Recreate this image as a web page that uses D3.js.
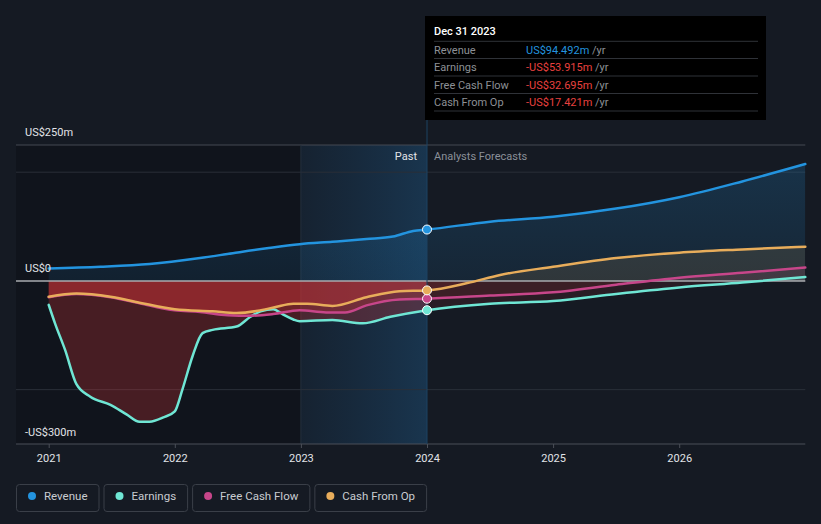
<!DOCTYPE html>
<html>
<head>
<meta charset="utf-8">
<script src="https://cdn.jsdelivr.net/npm/d3@7"></script>
<style>
html,body{margin:0;padding:0;background:#151a23;}
svg{display:block;font-family:Roboto,"Noto Sans",sans-serif;}
</style>
</head>
<body>
<svg id="chart" width="821" height="524"></svg>
<script>
// ---------------- DATA ----------------
const seriesNames = ["Revenue", "Earnings", "Free Cash Flow", "Cash From Op"];
const yearTicks = [2021, 2022, 2023, 2024, 2025, 2026];
const yTickLabels = [{v: 250, t: "US$250m"}, {v: 0, t: "US$0"}, {v: -300, t: "-US$300m"}];
const gridValues = [200, -200];

const revenuePast = [[2021.0,23],[2021.41,26],[2021.8,31],[2022.2,42],[2022.46,51],[2022.73,60],[2022.99,67.5],[2023.25,72],[2023.52,77],[2023.73,81.5],[2023.89,92],[2024.0,94.492]];
const revenueForecast = [[2024.0,94.492],[2024.5,109],[2025.0,118],[2025.5,133],[2026.0,154],[2026.5,183],[2027.0,215]];

const earningsPast = [[2021.0,-44],[2021.05,-78],[2021.13,-127],[2021.22,-190],[2021.33,-213],[2021.49,-228],[2021.62,-246],[2021.72,-259],[2021.8,-259],[2021.91,-251],[2022.0,-240],[2022.06,-200],[2022.14,-139],[2022.22,-96],[2022.3,-90],[2022.49,-84],[2022.6,-66],[2022.68,-56],[2022.78,-52],[2022.86,-62],[2022.94,-71],[2022.99,-74],[2023.25,-72],[2023.49,-78],[2023.71,-66],[2024.0,-53.915]];
const earningsForecast = [[2024.0,-53.915],[2024.5,-42],[2025.0,-37],[2025.5,-24],[2026.0,-12],[2026.5,-3],[2027.0,7]];

const fcfPast = [[2021.0,-30],[2021.22,-24],[2021.49,-30],[2021.72,-41],[2022.0,-54],[2022.2,-57],[2022.42,-63],[2022.6,-64],[2022.78,-61],[2022.99,-54],[2023.2,-58],[2023.35,-58],[2023.52,-45],[2023.78,-34],[2024.0,-32.695]];
const fcfForecast = [[2024.0,-32.695],[2024.5,-27],[2025.0,-21],[2025.5,-7],[2026.0,6],[2026.5,15],[2027.0,24.5]];

const cfoPast = [[2021.0,-29],[2021.22,-23],[2021.49,-29],[2021.72,-40],[2022.0,-52],[2022.3,-56],[2022.49,-59],[2022.66,-55],[2022.8,-48],[2022.94,-42],[2023.05,-42],[2023.25,-46],[2023.52,-30],[2023.78,-19],[2024.0,-17.421]];
const cfoForecast = [[2024.0,-17.421],[2024.32,-4],[2024.58,11],[2025.0,26],[2025.5,42],[2026.0,52],[2026.5,58],[2027.0,63]];

const tooltipDate = "Dec 31 2023";
const tooltipValues = ["US$94.492m", "-US$53.915m", "-US$32.695m", "-US$17.421m"];
const markerYear = 2024.0;
const pastStartYear = 2023.0;

// ---------------- SETUP ----------------
const colors = ["#2394df", "#6fe6d4", "#c7468a", "#e8ad5b"];
const svg = d3.select("#chart");
const x = d3.scaleLinear().domain([2021, 2027]).range([48.7, 805.3]);
const y = d3.scaleLinear().domain([-300, 250]).range([444, 145]);
const xLeft = 16, xRight = x(2027);
const y0 = y(0);

const defs = svg.append("defs");
function clip(id, x1, y1, x2, y2) {
  defs.append("clipPath").attr("id", id).append("rect")
    .attr("x", x1).attr("y", y1).attr("width", x2 - x1).attr("height", y2 - y1);
}
clip("negPast", xLeft, y0, x(markerYear), y(-300));
clip("negFore", x(markerYear), y0, xRight, y(-300));
clip("posAll", xLeft, y(250), xRight, y0);

const bandGrad = defs.append("linearGradient").attr("id", "band").attr("x1", 0).attr("x2", 1).attr("y1", 0).attr("y2", 0);
bandGrad.append("stop").attr("offset", 0).attr("stop-color", "#1a4e7a").attr("stop-opacity", 0.16);
bandGrad.append("stop").attr("offset", 1).attr("stop-color", "#1f5e90").attr("stop-opacity", 0.4);

const revGrad = defs.append("linearGradient").attr("id", "revGrad")
  .attr("gradientUnits", "userSpaceOnUse").attr("x1", 0).attr("x2", 0).attr("y1", y(215)).attr("y2", y0);
revGrad.append("stop").attr("offset", 0).attr("stop-color", "#2394df").attr("stop-opacity", 0.2);
revGrad.append("stop").attr("offset", 1).attr("stop-color", "#2394df").attr("stop-opacity", 0.1);

// background regions
svg.append("rect").attr("x", xLeft).attr("y", y(250)).attr("width", x(pastStartYear) - xLeft).attr("height", y(-300) - y(250))
  .attr("fill", "#000").attr("opacity", 0.2);
svg.append("rect").attr("x", x(pastStartYear)).attr("y", y(250)).attr("width", x(markerYear) - x(pastStartYear)).attr("height", y(-300) - y(250))
  .attr("fill", "url(#band)");

// grid
svg.append("line").attr("x1", xLeft).attr("x2", xRight).attr("y1", y(250)).attr("y2", y(250)).attr("stroke", "#444952").attr("stroke-width", 1);
gridValues.forEach(v => {
  svg.append("line").attr("x1", xLeft).attr("x2", xRight).attr("y1", y(v)).attr("y2", y(v)).attr("stroke", "#2a2f38").attr("stroke-width", 1);
});
svg.append("line").attr("x1", x(pastStartYear)).attr("x2", x(pastStartYear)).attr("y1", y(250)).attr("y2", y(-300)).attr("stroke", "#24303d").attr("stroke-width", 1);

// series data
const allSeries = [
  revenuePast.concat(revenueForecast.slice(1)),
  earningsPast.concat(earningsForecast.slice(1)),
  fcfPast.concat(fcfForecast.slice(1)),
  cfoPast.concat(cfoForecast.slice(1))
];

const curve = d3.curveMonotoneX;
const area = d3.area().x(d => x(d[0])).y0(y0).y1(d => y(d[1])).curve(curve);
const line = d3.line().x(d => x(d[0])).y(d => y(d[1])).curve(curve);

// revenue area
svg.append("path").datum(allSeries[0]).attr("d", area).attr("fill", "url(#revGrad)").attr("clip-path", "url(#posAll)");
// positive areas of other series
[1, 2, 3].forEach(i => {
  svg.append("path").datum(allSeries[i]).attr("d", area).attr("fill", colors[i]).attr("opacity", 0.12).attr("clip-path", "url(#posAll)");
});
// negative areas (red)
[1, 2, 3].forEach(i => {
  svg.append("path").datum(allSeries[i]).attr("d", area).attr("fill", "#cf3338").attr("opacity", 0.29).attr("clip-path", "url(#negPast)");
  svg.append("path").datum(allSeries[i]).attr("d", area).attr("fill", "#cf3338").attr("opacity", 0.11).attr("clip-path", "url(#negFore)");
});

// zero line and axis
svg.append("line").attr("x1", xLeft).attr("x2", xRight).attr("y1", y0).attr("y2", y0).attr("stroke", "#a9abaf").attr("stroke-width", 1.5);
svg.append("line").attr("x1", xLeft).attr("x2", xRight).attr("y1", y(-300)).attr("y2", y(-300)).attr("stroke", "#4a4f58").attr("stroke-width", 1);

// vertical line at marker
svg.append("line").attr("x1", x(markerYear)).attr("x2", x(markerYear)).attr("y1", 120).attr("y2", y(-300)).attr("stroke", "#1d4262").attr("stroke-width", 1);

// lines (draw order: earnings, fcf, cfo, revenue)
[1, 2, 3, 0].forEach(i => {
  svg.append("path").datum(allSeries[i]).attr("d", line).attr("fill", "none").attr("stroke", colors[i]).attr("stroke-width", 2.5)
    .attr("stroke-linejoin", "round").attr("stroke-linecap", "round");
});

// markers
[0, 1, 2, 3].forEach(i => {
  const pt = allSeries[i].find(d => d[0] === markerYear);
  svg.append("circle").attr("cx", x(pt[0])).attr("cy", y(pt[1])).attr("r", 4.5).attr("fill", colors[i]).attr("stroke", "#fff").attr("stroke-width", 1);
});

// x axis ticks and labels
const xAxis = d3.axisBottom(x).tickValues(yearTicks).tickFormat(d3.format("d")).tickSize(4).tickPadding(6);
const gx = svg.append("g").attr("transform", `translate(0,${y(-300)})`).call(xAxis);
gx.select(".domain").remove();
gx.selectAll(".tick line").attr("stroke", "#4a4f58");
gx.selectAll(".tick text").attr("fill", "#e2e4e8").attr("font-size", 11).attr("font-family", "Roboto, sans-serif");

// y labels
const yLabelOffset = {250: -9, 0: -9, "-300": -8};
yTickLabels.forEach(t => {
  svg.append("text").attr("x", 25).attr("y", y(t.v) + yLabelOffset[t.v]).attr("fill", "#e2e4e8").attr("font-size", 11).text(t.t);
});

// Past / Forecast labels
svg.append("text").attr("x", x(markerYear) - 10).attr("y", 160).attr("text-anchor", "end").attr("fill", "#e2e4e8").attr("font-size", 11).text("Past");
svg.append("text").attr("x", x(markerYear) + 7).attr("y", 160).attr("fill", "#8b9099").attr("font-size", 11).text("Analysts Forecasts");

// tooltip
const tt = svg.append("g");
tt.append("rect").attr("x", 425).attr("y", 16).attr("width", 341).attr("height", 104).attr("fill", "#000");
tt.append("text").attr("x", 434).attr("y", 35).attr("fill", "#fff").attr("font-size", 11).attr("font-weight", 500).text(tooltipDate);
const sepY = [41.3, 58.5, 76, 93.5, 111];
sepY.forEach(s => tt.append("line").attr("x1", 434).attr("x2", 758).attr("y1", s).attr("y2", s).attr("stroke", "#2f3238").attr("stroke-width", 1));
seriesNames.forEach((n, i) => {
  const cy = (sepY[i] + sepY[i + 1]) / 2 + 4;
  tt.append("text").attr("x", 434).attr("y", cy).attr("fill", "#8d9096").attr("font-size", 11).text(n);
  const vt = tt.append("text").attr("x", 526).attr("y", cy).attr("font-size", 11);
  vt.append("tspan").attr("fill", i === 0 ? "#2394df" : "#e8403f").text(tooltipValues[i]);
  vt.append("tspan").attr("fill", "#8d9096").text(" /yr");
});

// legend
let lx = 16;
seriesNames.forEach((n, i) => {
  const g = svg.append("g");
  const t = g.append("text").attr("x", lx + 28).attr("y", 500).attr("fill", "#c9ccd1").attr("font-size", 11.5).text(n);
  const w = t.node().getComputedTextLength();
  const bw = 28 + w + 11;
  g.insert("rect", "text").attr("x", lx + 0.5).attr("y", 484.5).attr("width", bw).attr("height", 27).attr("rx", 3)
    .attr("fill", "none").attr("stroke", "#3a3f48").attr("stroke-width", 1);
  g.append("circle").attr("cx", lx + 16).attr("cy", 496).attr("r", 4).attr("fill", colors[i]);
  lx += bw + 5;
});
</script>
</body>
</html>
